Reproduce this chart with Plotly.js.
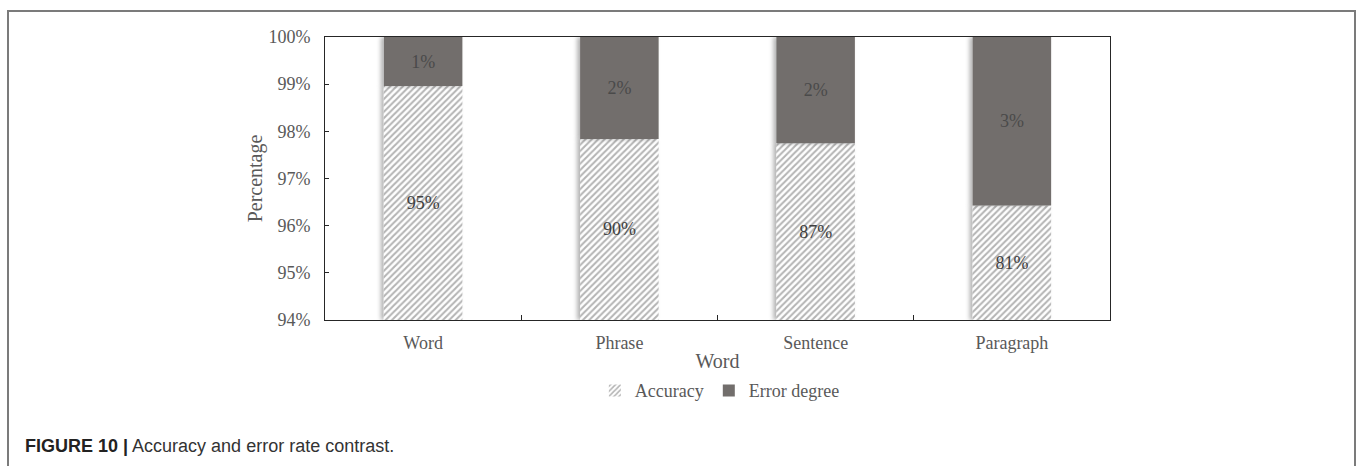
<!DOCTYPE html>
<html>
<head>
<meta charset="utf-8">
<script src="https://cdn.plot.ly/plotly-3.0.1.min.js"></script>
<style>
  html, body { margin: 0; padding: 0; background: #fff; }
  #wrap { position: relative; width: 1362px; height: 466px; overflow: hidden; }
  #frame {
    position: absolute; left: 7px; top: 10px; width: 1349px; height: 470px;
    border-top: 2px solid #7b7b7b; border-left: 2px solid #7b7b7b; border-right: 2px solid #7b7b7b;
    box-sizing: border-box; pointer-events: none;
  }
  #caption {
    position: absolute; left: 25px; top: 436px;
    font-family: "Liberation Sans", Arial, sans-serif; font-size: 18px; color: #333;
    white-space: nowrap;
  }
  #caption b { color: #222; }
  #chart { position: absolute; left: 0; top: 0; }
  .barlayer .point path { filter: url(#barShadow); }
</style>
</head>
<body>
<svg width="0" height="0" style="position:absolute">
  <defs>
    <filter id="barShadow" x="-20%" y="-5%" width="140%" height="110%">
      <feDropShadow dx="-3" dy="0" stdDeviation="2" flood-color="#000" flood-opacity="0.3"/>
    </filter>
  </defs>
</svg>
<div id="wrap">
  <div id="chart"></div>
  <div id="frame"></div>
  <div id="caption"><b>FIGURE 10 |</b> Accuracy and error rate contrast.</div>
</div>
<script>
// Text levels on the category axis
const categories = ['Word', 'Phrase', 'Sentence', 'Paragraph'];
// Where the accuracy segment ends on the percentage axis (the rest up to 100% is the error segment)
const accuracyTop = [98.96, 97.84, 97.75, 96.43];
// Labels printed inside the segments
const accuracyLabels = ['95%', '90%', '87%', '81%'];
const errorLabels = ['1%', '2%', '2%', '3%'];
// Percentage axis limits and tick values
const axisFloor = 94;
const axisCeil = 100;
const yTicks = [94, 95, 96, 97, 98, 99, 100];
const yTickText = ['94%', '95%', '96%', '97%', '98%', '99%', '100%'];

const serif = '"Liberation Serif", "Times New Roman", serif';

const accuracyTrace = {
  type: 'bar',
  name: 'Accuracy',
  x: categories,
  base: categories.map(() => axisFloor),
  y: accuracyTop.map(v => v - axisFloor),
  text: accuracyLabels,
  texttemplate: '%{text}',
  textposition: 'inside',
  insidetextanchor: 'middle',
  textangle: 0,
  textfont: { family: serif, size: 18, color: '#404040' },
  width: 0.4,
  marker: {
    color: '#ffffff',
    line: { width: 0 },
    pattern: { shape: '/', bgcolor: '#ffffff', fgcolor: '#b4b4b4', size: 4.5, solidity: 0.45 }
  },
  hoverinfo: 'skip'
};

const errorTrace = {
  type: 'bar',
  name: 'Error degree',
  x: categories,
  base: accuracyTop,
  y: accuracyTop.map(v => axisCeil - v),
  text: errorLabels,
  texttemplate: '%{text}',
  textposition: 'inside',
  insidetextanchor: 'middle',
  textangle: 0,
  textfont: { family: serif, size: 18, color: '#4a4a4a' },
  width: 0.4,
  marker: { color: '#726e6c', line: { width: 0 } },
  hoverinfo: 'skip'
};

const layout = {
  width: 1362,
  height: 466,
  margin: { l: 325, r: 252, t: 37, b: 146 },
  paper_bgcolor: 'rgba(0,0,0,0)',
  plot_bgcolor: '#ffffff',
  barmode: 'overlay',
  showlegend: true,
  font: { family: serif, size: 18, color: '#595959' },
  xaxis: {
    type: 'category',
    showline: true, linecolor: '#262626', linewidth: 1, mirror: true,
    ticks: 'inside', tickson: 'boundaries', ticklen: 5, tickcolor: '#262626',
    ticklabelstandoff: 6,
    showgrid: false, zeroline: false,
    tickfont: { family: serif, size: 18, color: '#595959' },
    title: { text: 'Word', font: { family: serif, size: 20, color: '#595959' }, standoff: 2 },
    fixedrange: true
  },
  yaxis: {
    range: [axisFloor, axisCeil],
    tickvals: yTicks, ticktext: yTickText,
    showline: true, linecolor: '#262626', linewidth: 1, mirror: true,
    ticks: 'inside', ticklen: 4, tickcolor: '#262626',
    ticklabelstandoff: 10,
    showgrid: false, zeroline: false,
    tickfont: { family: serif, size: 18, color: '#595959' },
    title: { text: 'Percentage', font: { family: serif, size: 20, color: '#595959' }, standoff: 0 },
    fixedrange: true
  },
  legend: {
    orientation: 'h',
    x: 0.503, xanchor: 'center',
    y: -0.25, yanchor: 'middle',
    font: { family: serif, size: 18, color: '#595959' },
    itemwidth: 30,
    traceorder: 'normal',
    bgcolor: 'rgba(0,0,0,0)'
  }
};

Plotly.newPlot('chart', [accuracyTrace, errorTrace], layout, { displayModeBar: false, staticPlot: true });
</script>
</body>
</html>
